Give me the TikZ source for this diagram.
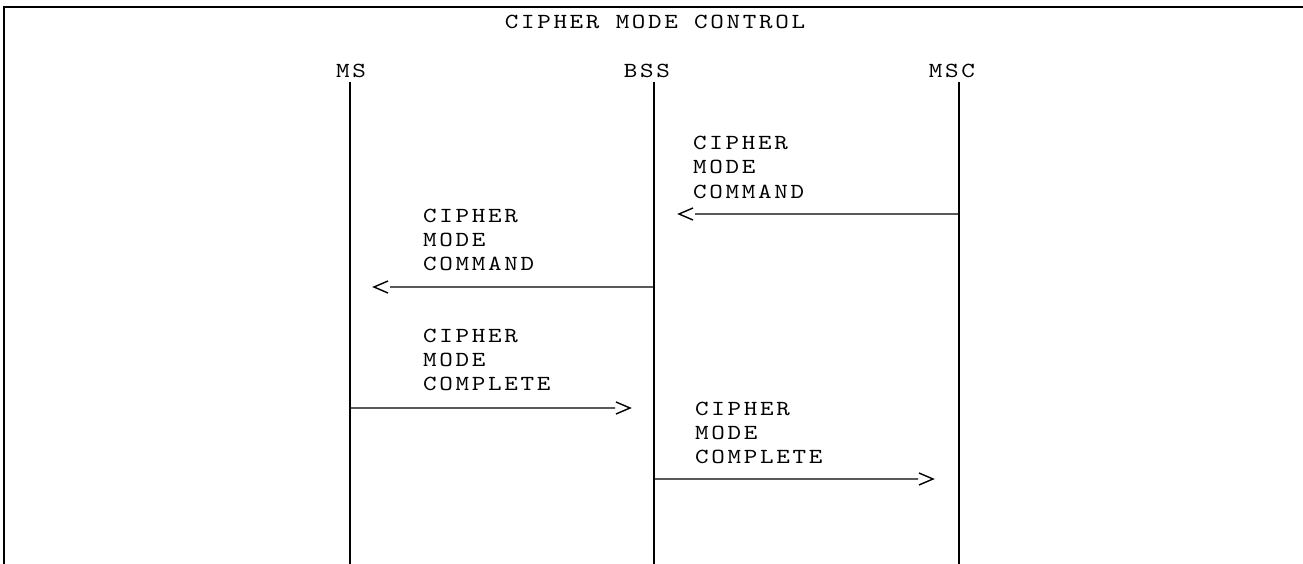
\documentclass[tikz,border=0pt]{standalone}
\usepackage{fontspec}
\newfontfamily\dgmono{lmmono10-regular}[Extension=.otf, FakeStretch=1.2, LetterSpace=12.5]
\newcommand\dgfont{\dgmono\fontsize{21.5}{24}\selectfont}
\begin{document}
\begin{tikzpicture}[x=1pt,y=-1pt,
  frame/.style={line width=2pt},
  lifeline/.style={line width=2pt},
  msgline/.style={line width=1.4pt},
  head/.style={font=\dgfont, inner sep=0pt, anchor=base east},
  msgtext/.style={font=\dgfont, inner sep=0pt, anchor=base west, align=left},
  titletext/.style={font=\dgfont, inner sep=0pt, anchor=base}]
\useasboundingbox (0,0) rectangle (1303,564);
% frame
\draw[frame] (4,564) -- (4,7) -- (1303,7);
% title
\node[titletext] (title) at (655,29) {CIPHER MODE CONTROL};
% lifeline heads
\node[head] (ms)  at (366,78) {MS};
\node[head] (bss) at (670,78) {BSS};
\node[head] (msc) at (975,78) {MSC};
% lifelines
\coordinate (msT) at (350,82);  \coordinate (msB) at (350,564);
\coordinate (bssT) at (654,82); \coordinate (bssB) at (654,564);
\coordinate (mscT) at (959,82); \coordinate (mscB) at (959,564);
\draw[lifeline] (msT) -- (msB);
\draw[lifeline] (bssT) -- (bssB);
\draw[lifeline] (mscT) -- (mscB);
% message 1: MSC -> BSS
\coordinate (m1s) at (959,214); \coordinate (m1e) at (695,214);
\draw[msgline] (m1s) -- (m1e) ++(-2,-6) -- ++(-14,6) -- ++(14,6);
\node[msgtext] (t1) at (693,198) {CIPHER\\MODE\\COMMAND};
% message 2: BSS -> MS
\coordinate (m2s) at (654,287); \coordinate (m2e) at (390,287);
\draw[msgline] (m2s) -- (m2e) ++(-2,-6) -- ++(-14,6) -- ++(14,6);
\node[msgtext] (t2) at (423,270) {CIPHER\\MODE\\COMMAND};
% message 3: MS -> BSS
\coordinate (m3s) at (350,408); \coordinate (m3e) at (615,408);
\draw[msgline] (m3s) -- (m3e) ++(1,-6) -- ++(14,6) -- ++(-14,6);
\node[msgtext] (t3) at (423,390) {CIPHER\\MODE\\COMPLETE};
% message 4: BSS -> MSC
\coordinate (m4s) at (654,479); \coordinate (m4e) at (918,479);
\draw[msgline] (m4s) -- (m4e) ++(1,-6) -- ++(14,6) -- ++(-14,6);
\node[msgtext] (t4) at (695,463) {CIPHER\\MODE\\COMPLETE};
\end{tikzpicture}
\end{document}
